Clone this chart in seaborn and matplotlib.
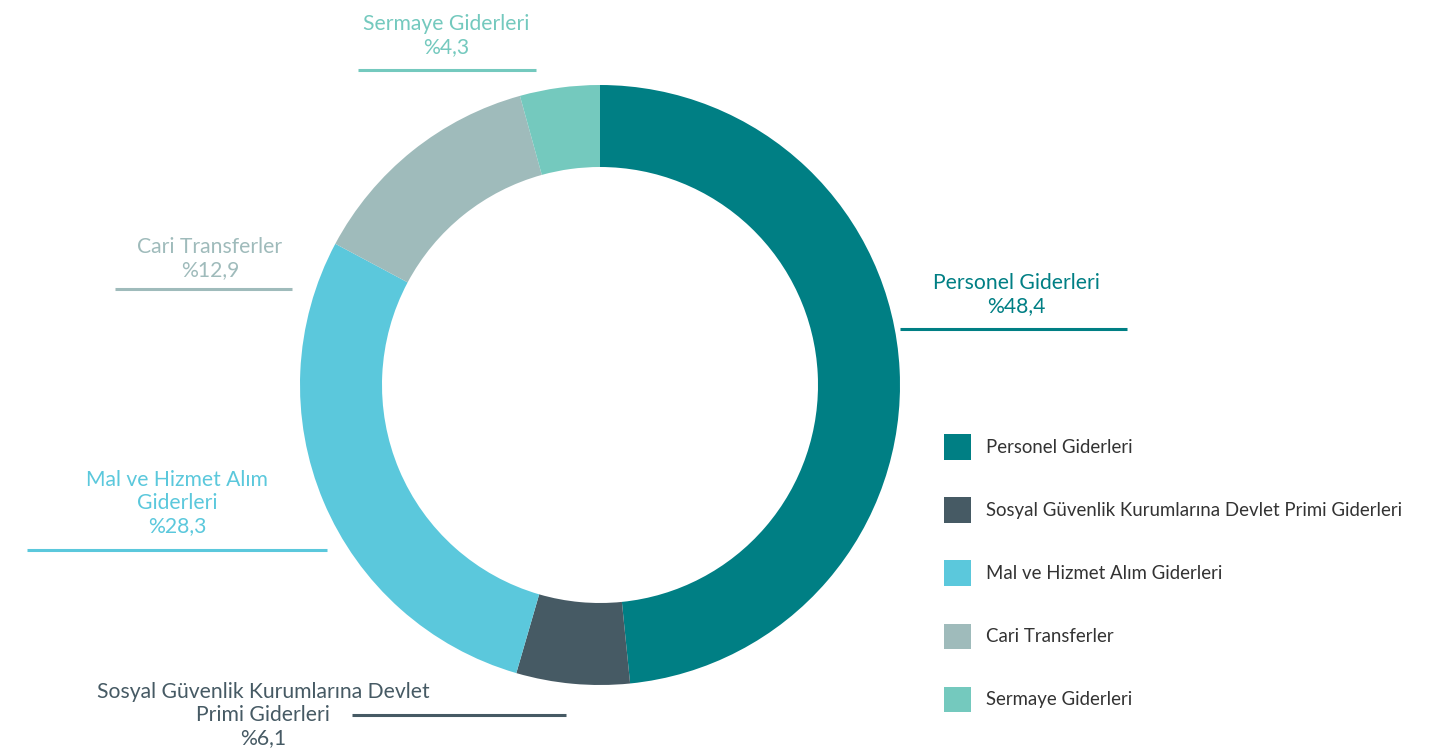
import matplotlib
matplotlib.use('Agg')
import matplotlib.pyplot as plt
import seaborn as sns

sns.set_theme(style='white')
plt.rcParams['font.family'] = ['Lato', 'DejaVu Sans']

# veri
kategoriler = ['Personel Giderleri',
               'Sosyal Güvenlik Kurumlarına Devlet Primi Giderleri',
               'Mal ve Hizmet Alım Giderleri',
               'Cari Transferler',
               'Sermaye Giderleri']
oranlar = [48.4, 6.1, 28.3, 12.9, 4.3]
etiketler = ['Personel Giderleri\n%48,4',
             'Sosyal Güvenlik Kurumlarına Devlet\nPrimi Giderleri\n%6,1',
             'Mal ve Hizmet Alım\nGiderleri\n%28,3',
             'Cari Transferler\n%12,9',
             'Sermaye Giderleri\n%4,3']
renkler = sns.color_palette(['#007F84', '#465A64', '#5BC8DC', '#9FBBBB', '#74C9BE'])

W, H = 1437, 756
fig = plt.figure(figsize=(W / 100, H / 100), dpi=100)
ax = fig.add_axes([0, 0, 1, 1])

# halka grafik (merkez piksel koordinatlarinda)
cx, cy, r = 600, H - 385, 300
wedges, _ = ax.pie(oranlar, colors=renkler, startangle=90, counterclock=False,
                   radius=r, center=(cx, cy),
                   wedgeprops=dict(width=82, linewidth=0))
ax.set_xlim(0, W)
ax.set_ylim(0, H)
ax.set_aspect('equal')
ax.axis('off')

# etiket yerleri: (metin x, metin ust y, cizgi x1, cizgi x2, cizgi y)
yerler = [
    (1016, 273, 900, 1127, 329),
    (263, 682, 352, 566, 715),
    (177, 470, 27, 327, 550),
    (210, 237, 115, 292, 289),
    (446, 14, 358, 536, 70),
]
for (tx, ty, x1, x2, ly), et, c in zip(yerler, etiketler, renkler):
    ax.text(tx, H - ty, et, ha='center', va='top', fontsize=15.2, color=c,
            linespacing=1.2)
    ax.plot([x1, x2], [H - ly, H - ly], color=c, lw=2.2, solid_capstyle='butt')

# lejant
leg = ax.legend(wedges, kategoriler, loc='upper left',
                bbox_to_anchor=(935 / W, 1 - 425 / H), frameon=False,
                fontsize=13.4, handlelength=1.45, handleheight=1.73,
                handletextpad=0.8, labelspacing=2.02, borderpad=0)
for t in leg.get_texts():
    t.set_color('#333333')

fig.savefig('out.png', dpi=100, facecolor='white')
